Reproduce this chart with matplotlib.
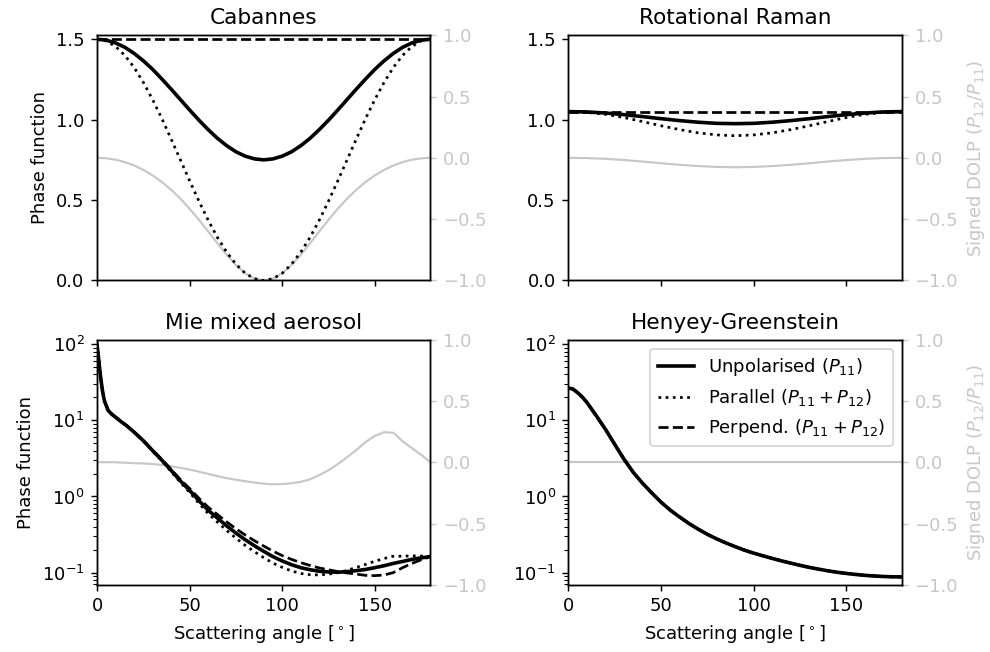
import numpy as np
import matplotlib
matplotlib.use('Agg')
import matplotlib.pyplot as plt

# ---- Cabannes (5 degree steps) ----
cab_angle = np.arange(0, 181, 5)
cab_p11 = [1.500, 1.494, 1.477, 1.450, 1.412, 1.366, 1.313, 1.253, 1.190, 1.125,
           1.060, 0.997, 0.938, 0.884, 0.838, 0.800, 0.773, 0.756, 0.750,
           0.756, 0.773, 0.800, 0.838, 0.884, 0.938, 0.997, 1.060,
           1.125, 1.190, 1.253, 1.313, 1.366, 1.412, 1.450, 1.477, 1.494, 1.500]
cab_par = [1.500, 1.489, 1.455, 1.400, 1.325, 1.232, 1.125, 1.007, 0.880, 0.750,
           0.620, 0.494, 0.375, 0.268, 0.176, 0.101, 0.045, 0.011, 0.000,
           0.011, 0.045, 0.101, 0.176, 0.268, 0.375, 0.494, 0.620,
           0.750, 0.880, 1.007, 1.125, 1.232, 1.325, 1.400, 1.455, 1.489, 1.500]
cab_perp = [1.5] * 37
cab_dolp = [0.0, -0.004, -0.015, -0.035, -0.062, -0.098, -0.143, -0.197, -0.260, -0.333,
            -0.415, -0.505, -0.600, -0.697, -0.791, -0.874, -0.941, -0.985, -1.000,
            -0.985, -0.941, -0.874, -0.791, -0.697, -0.600, -0.505, -0.415,
            -0.333, -0.260, -0.197, -0.143, -0.098, -0.062, -0.035, -0.015, -0.004, 0.0]

# ---- Rotational Raman (10 degree steps) ----
rr_angle = np.arange(0, 181, 10)
rr_p11 = [1.050, 1.048, 1.041, 1.031, 1.019, 1.006, 0.994, 0.984, 0.977, 0.975,
          0.977, 0.984, 0.994, 1.006, 1.019, 1.031, 1.041, 1.048, 1.050]
rr_par = [1.050, 1.045, 1.033, 1.013, 0.988, 0.962, 0.938, 0.918, 0.905, 0.900,
          0.905, 0.918, 0.938, 0.962, 0.988, 1.013, 1.033, 1.045, 1.050]
rr_perp = [1.05] * 19
rr_dolp = [0.0, -0.002, -0.008, -0.018, -0.030, -0.044, -0.057, -0.067, -0.074, -0.077,
           -0.074, -0.067, -0.057, -0.044, -0.030, -0.018, -0.008, -0.002, 0.0]

# ---- Mie mixed aerosol ----
mie_angle = [0, 1, 2, 3, 4, 6, 8, 10, 13, 16, 20, 25, 30, 35, 40, 45, 50, 55, 60, 65,
             70, 75, 80, 85, 90, 95, 100, 105, 110, 115, 120, 125, 130, 135, 140,
             145, 150, 155, 160, 165, 170, 175, 180]
mie_p11 = [100, 60, 36, 24, 18, 13.5, 12.0, 11.0, 9.6, 8.5, 7.0, 5.4, 4.0, 3.0, 2.2,
           1.6, 1.2, 0.88, 0.66, 0.52, 0.41, 0.33, 0.27, 0.225, 0.19, 0.162, 0.142,
           0.127, 0.116, 0.109, 0.104, 0.102, 0.101, 0.103, 0.106, 0.110, 0.116,
           0.123, 0.132, 0.140, 0.149, 0.156, 0.162]
mie_par = [100, 60, 36, 24, 18, 13.5, 12.0, 11.0, 9.57, 8.46, 6.94, 5.35, 3.94, 2.93,
           2.13, 1.53, 1.13, 0.812, 0.597, 0.461, 0.357, 0.283, 0.228, 0.188, 0.157,
           0.133, 0.117, 0.105, 0.0974, 0.0937, 0.0931, 0.0954, 0.0995, 0.107, 0.117,
           0.128, 0.141, 0.153, 0.164, 0.164, 0.166, 0.165, 0.162]
mie_perp = [100, 60, 36, 24, 18, 13.5, 12.0, 11.0, 9.63, 8.54, 7.06, 5.45, 4.06, 3.07,
            2.27, 1.67, 1.27, 0.948, 0.723, 0.579, 0.463, 0.377, 0.312, 0.262, 0.223,
            0.191, 0.167, 0.149, 0.135, 0.124, 0.115, 0.109, 0.103, 0.0989, 0.0954,
            0.0919, 0.0911, 0.0929, 0.100, 0.116, 0.132, 0.147, 0.162]
mie_dolp = [0, 0, 0, 0, 0, 0, 0, 0, -0.003, -0.005, -0.008, -0.010, -0.015, -0.022,
            -0.033, -0.046, -0.060, -0.077, -0.095, -0.113, -0.130, -0.143, -0.155,
            -0.166, -0.175, -0.180, -0.178, -0.172, -0.160, -0.140, -0.105, -0.065,
            -0.015, 0.040, 0.100, 0.165, 0.215, 0.245, 0.240, 0.170, 0.115, 0.060, 0.0]

# ---- Henyey-Greenstein ----
hg_angle = [0, 2.5, 5, 7.5, 10, 15, 20, 25, 30, 35, 40, 45, 50, 55, 60, 65, 70, 75,
            80, 85, 90, 95, 100, 105, 110, 115, 120, 125, 130, 135, 140, 145, 150,
            155, 160, 165, 170, 175, 180]
hg_p11 = [26.6, 25.7, 23.0, 20.2, 17.1, 11.5, 7.6, 4.82, 3.08, 2.07, 1.49, 1.11,
          0.84, 0.66, 0.537, 0.442, 0.372, 0.318, 0.277, 0.245, 0.219, 0.197, 0.18,
          0.166, 0.1535, 0.1425, 0.133, 0.1245, 0.117, 0.111, 0.1055, 0.101, 0.0975,
          0.0945, 0.092, 0.0902, 0.0888, 0.0880, 0.0877]
hg_dolp = [0.0] * len(hg_angle)

panels = [
    ('Cabannes', cab_angle, cab_p11, cab_par, cab_perp, cab_dolp),
    ('Rotational Raman', rr_angle, rr_p11, rr_par, rr_perp, rr_dolp),
    ('Mie mixed aerosol', mie_angle, mie_p11, mie_par, mie_perp, mie_dolp),
    ('Henyey-Greenstein', hg_angle, hg_p11, hg_p11, hg_p11, hg_dolp),
]

grey = '0.78'
fig, axes = plt.subplots(2, 2, figsize=(990 / 130, 652 / 130), dpi=130, sharex=True)
fig.subplots_adjust(left=0.098, right=0.911, top=0.946, bottom=0.103,
                    wspace=0.414, hspace=0.241)

for i, (title, ang, p11, par, perp, dolp) in enumerate(panels):
    ax = axes.flat[i]
    ax2 = ax.twinx()
    ax2.plot(ang, dolp, color=grey, lw=1.2)
    ax2.set_ylim(-1, 1)
    ax2.tick_params(axis='y', colors=grey)

    ax.plot(ang, p11, 'k-', lw=2, label='Unpolarised ($P_{11}$)')
    ax.plot(ang, par, 'k:', lw=1.5, label='Parallel ($P_{11} + P_{12}$)')
    ax.plot(ang, perp, 'k--', lw=1.5, label='Perpend. ($P_{11} + P_{12}$)')
    ax.set_zorder(ax2.get_zorder() + 1)
    ax.patch.set_visible(False)

    ax.set_title(title)
    ax.set_xlim(0, 180)
    if i < 2:
        ax.set_ylim(0, 1.525)
    else:
        ax.set_yscale('log')
        ax.set_ylim(0.069, 115)
        ax.set_xlabel('Scattering angle [$^\\circ$]')
    if i % 2 == 0:
        ax.set_ylabel('Phase function')
    else:
        ax2.set_ylabel('Signed DOLP ($P_{12}/P_{11}$)', color=grey)
    if i == 3:
        ax.legend(loc='upper right')

fig.savefig('out.png', dpi=130)
